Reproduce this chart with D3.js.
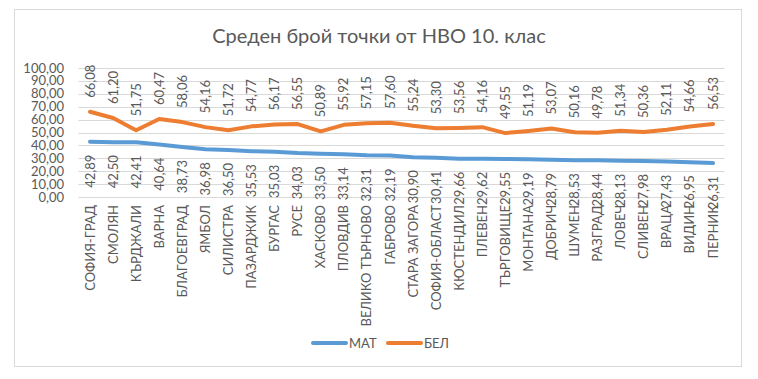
<!DOCTYPE html>
<html><head><meta charset="utf-8">
<script src="https://cdn.jsdelivr.net/npm/d3@7"></script>
<style>
html,body{margin:0;padding:0;background:#fff;}
svg{display:block;font-family:Lato,"Noto Sans",sans-serif;}
</style></head>
<body>
<svg id="c" width="758" height="379"></svg>
<script>
const categories = ["СОФИЯ-ГРАД","СМОЛЯН","КЪРДЖАЛИ","ВАРНА","БЛАГОЕВГРАД","ЯМБОЛ","СИЛИСТРА","ПАЗАРДЖИК","БУРГАС","РУСЕ","ХАСКОВО","ПЛОВДИВ","ВЕЛИКО ТЪРНОВО","ГАБРОВО","СТАРА ЗАГОРА","СОФИЯ-ОБЛАСТ","КЮСТЕНДИЛ","ПЛЕВЕН","ТЪРГОВИЩЕ","МОНТАНА","ДОБРИЧ","ШУМЕН","РАЗГРАД","ЛОВЕЧ","СЛИВЕН","ВРАЦА","ВИДИН","ПЕРНИК"];
const mat = [42.89,42.50,42.41,40.64,38.73,36.98,36.50,35.53,35.03,34.03,33.50,33.14,32.31,32.19,30.90,30.41,29.66,29.62,29.55,29.19,28.79,28.53,28.44,28.13,27.98,27.43,26.95,26.31];
const bel = [66.08,61.20,51.75,60.47,58.06,54.16,51.72,54.77,56.17,56.55,50.89,55.92,57.15,57.60,55.24,53.30,53.56,54.16,49.55,51.19,53.07,50.16,49.78,51.34,50.36,52.11,54.66,56.53];
const yTicks = [0,10,20,30,40,50,60,70,80,90,100];
const seriesNames = ["МАТ","БЕЛ"];
const colors = ["#5b9bd5","#ed7d31"];
const title = "Среден брой точки от НВО 10. клас";

const svg = d3.select("#c");
const fmt = v => v.toFixed(2).replace(".", ",");
const txt = "#595959";

// frame
svg.append("rect").attr("x",14.5).attr("y",9.5).attr("width",727).attr("height",357)
  .attr("fill","#fff").attr("stroke","#d9d9d9").attr("stroke-width",1);

// title
svg.append("text").attr("x",379).attr("y",43).attr("text-anchor","middle")
  .attr("font-size",20).attr("fill",txt).text(title);

const x = d3.scalePoint().domain(categories).range([90,713]);
const y = d3.scaleLinear().domain([0,100]).range([197,68]);

// gridlines
svg.append("g").selectAll("line").data(yTicks).join("line")
  .attr("x1",78.5).attr("x2",724.5)
  .attr("y1",d=>Math.round(y(d))+0.5).attr("y2",d=>Math.round(y(d))+0.5)
  .attr("stroke","#d9d9d9").attr("stroke-width",1);

// y tick labels
svg.append("g").selectAll("text").data(yTicks).join("text")
  .attr("x",64).attr("y",d=>y(d)).attr("dy","0.35em").attr("text-anchor","end")
  .attr("font-size",13).attr("fill",txt).text(fmt);

// category labels
svg.append("g").selectAll("text").data(categories).join("text")
  .attr("transform",d=>`translate(${x(d)},205) rotate(-90)`)
  .attr("dy","0.35em").attr("text-anchor","end")
  .attr("font-size",13).attr("fill",txt).text(d=>d);

// lines
const series = [mat, bel];
const line = d3.line().x((d,i)=>x(categories[i])).y(d=>y(d));
series.forEach((s,k)=>{
  svg.append("path").datum(s).attr("d",line).attr("fill","none")
    .attr("stroke",colors[k]).attr("stroke-width",4).attr("stroke-linejoin","round").attr("stroke-linecap","round");
});

// data labels
svg.append("g").selectAll("text").data(bel).join("text")
  .attr("transform",(d,i)=>`translate(${x(categories[i])},${y(d)-14}) rotate(-90)`)
  .attr("dy","0.35em").attr("text-anchor","start")
  .attr("font-size",13).attr("fill",txt).text(fmt);
svg.append("g").selectAll("text").data(mat).join("text")
  .attr("transform",(d,i)=>`translate(${x(categories[i])},${y(d)+13}) rotate(-90)`)
  .attr("dy","0.35em").attr("text-anchor","end")
  .attr("font-size",13).attr("fill",txt).text(fmt);

// legend
const legX = [313, 388];
seriesNames.forEach((n,k)=>{
  svg.append("line").attr("x1",legX[k]).attr("x2",legX[k]+33).attr("y1",343).attr("y2",343)
    .attr("stroke",colors[k]).attr("stroke-width",4).attr("stroke-linecap","round");
  svg.append("text").attr("x",legX[k]+36).attr("y",343).attr("dy","0.35em")
    .attr("font-size",13).attr("fill",txt).text(n);
});
</script>
</body></html>
